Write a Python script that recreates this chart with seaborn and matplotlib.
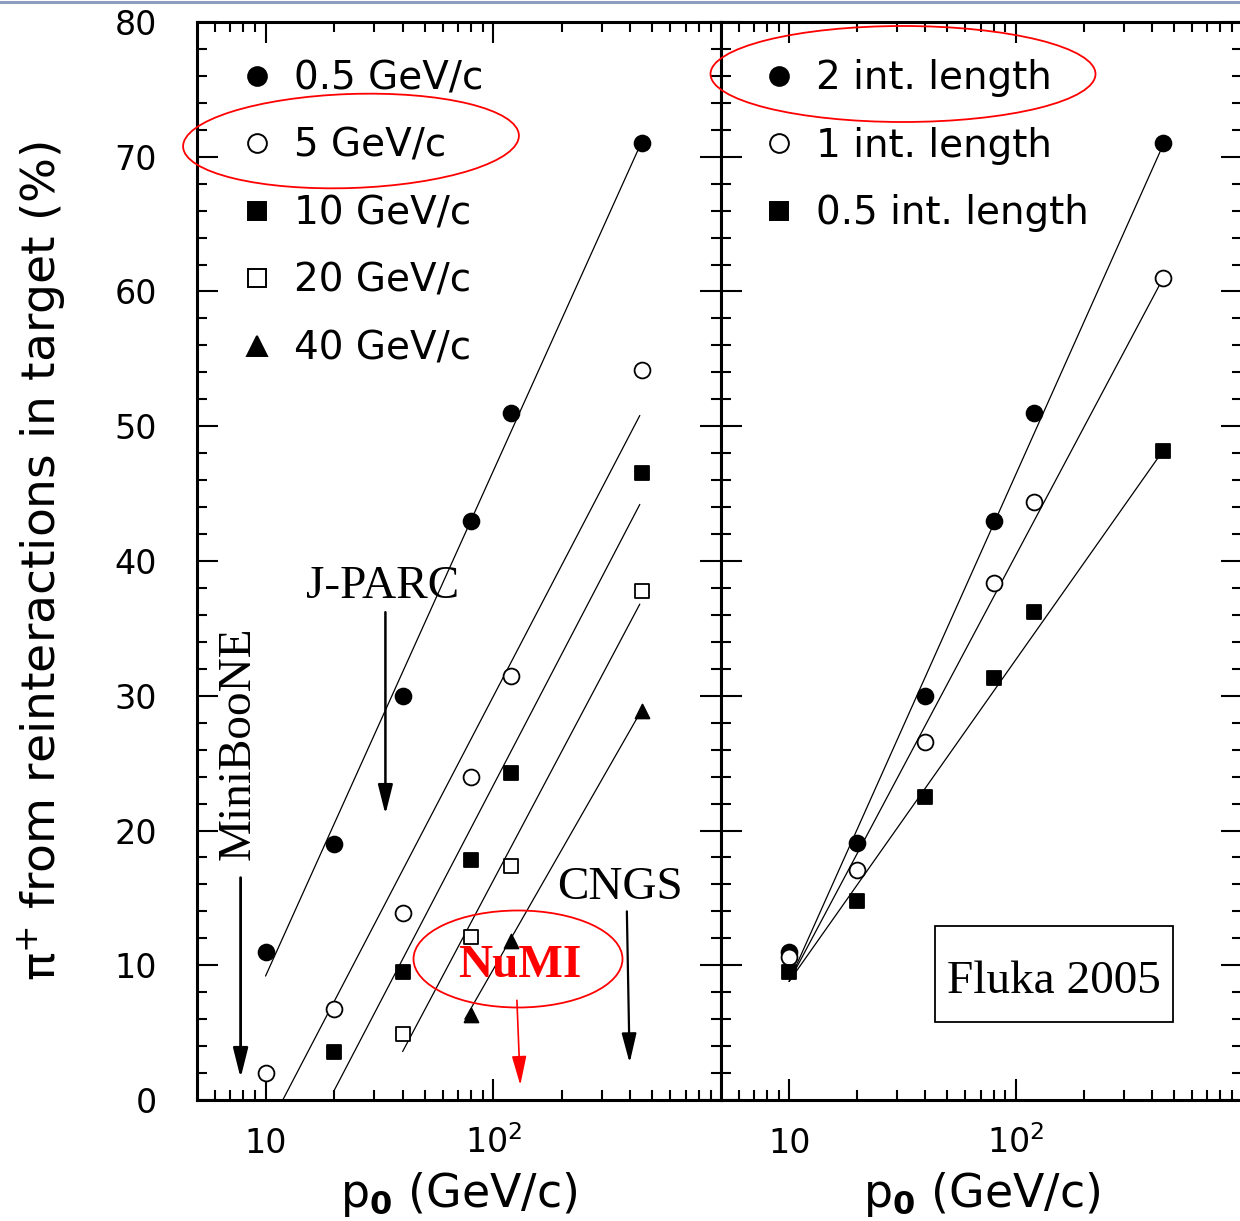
import numpy as np
import pandas as pd
import matplotlib
matplotlib.use("Agg")
import matplotlib.pyplot as plt
import seaborn as sns
from matplotlib.lines import Line2D
from matplotlib.patches import Ellipse, Rectangle
from matplotlib.ticker import FixedLocator, NullFormatter, MultipleLocator

# ---------------- data ----------------
# left panel: pi+ fraction from reinteractions vs beam momentum, per pion momentum
p_beam = [10, 20, 40, 80, 120, 450]
pi_p05 = [11.0, 19.0, 30.0, 43.0, 51.0, 71.0]      # 0.5 GeV/c
pi_p5 = [2.0, 6.75, 13.9, 24.0, 31.5, 54.2]         # 5 GeV/c
p_beam_10 = [20, 40, 80, 120, 450]
pi_p10 = [3.55, 9.5, 17.8, 24.3, 46.5]              # 10 GeV/c
p_beam_20 = [40, 80, 120, 450]
pi_p20 = [4.9, 12.1, 17.4, 37.8]                    # 20 GeV/c
p_beam_40 = [80, 120, 450]
pi_p40 = [6.3, 11.8, 28.9]                          # 40 GeV/c

# straight-line fits (in log p) drawn in the left panel: end points
fit_p05_x, fit_p05_y = [10, 432], [9.2, 70.5]
fit_p5_x, fit_p5_y = [11.9, 440], [0.0, 50.8]
fit_p10_x, fit_p10_y = [20, 440], [0.7, 44.2]
fit_p20_x, fit_p20_y = [40, 440], [3.6, 36.8]
fit_p40_x, fit_p40_y = [75, 440], [6.0, 28.7]

# right panel: target length dependence
pi_2int = [11.0, 19.1, 30.0, 43.0, 51.0, 71.0]
pi_1int = [10.6, 17.1, 26.6, 38.4, 44.4, 61.0]
pi_05int = [9.5, 14.8, 22.5, 31.3, 36.2, 48.2]
fit_2int_x, fit_2int_y = [10, 438], [8.8, 70.5]
fit_1int_x, fit_1int_y = [10, 436], [8.8, 60.6]
fit_05int_x, fit_05int_y = [10, 440], [8.8, 48.0]

left_labels = ["0.5 GeV/c", "5 GeV/c", "10 GeV/c", "20 GeV/c", "40 GeV/c"]
right_labels = ["2 int. length", "1 int. length", "0.5 int. length"]
xtick_vals = [10, 100]
xtick_text = ["10", "$10^2$"]

# ---------------- style ----------------
sns.set_theme(style="ticks")
plt.rcParams["font.family"] = ["DejaVu Sans"]
plt.rcParams["mathtext.default"] = "regular"
plt.rcParams["axes.linewidth"] = 2.2
for key in ["text.color", "axes.labelcolor", "xtick.color", "ytick.color",
            "xtick.labelcolor", "ytick.labelcolor", "axes.edgecolor"]:
    plt.rcParams[key] = "black"

W, H = 1240, 1221
fig = plt.figure(figsize=(W / 100, H / 100), dpi=100)
fig.patch.set_facecolor("white")

axL = fig.add_axes([197 / W, 1 - 1100 / H, 524 / W, 1078 / H])
axR = fig.add_axes([721 / W, 1 - 1100 / H, 521 / W, 1078 / H])

MS_C = 130   # scatter size (pt^2) circle
MS_S = 105   # square
MS_T = 100   # triangle
EW = 1.3

def series(ax, px, py, fx, fy, marker, fc, s):
    sns.lineplot(x=fx, y=fy, ax=ax, color="black", linewidth=0.9, zorder=2)
    sns.scatterplot(x=px, y=py, ax=ax, marker=marker, s=s, color=fc,
                    edgecolor="black", linewidth=EW, zorder=3)

for ax in (axL, axR):
    ax.set_xscale("log")

series(axL, p_beam, pi_p05, fit_p05_x, fit_p05_y, "o", "black", MS_C)
series(axL, p_beam, pi_p5, fit_p5_x, fit_p5_y, "o", "white", MS_C)
series(axL, p_beam_10, pi_p10, fit_p10_x, fit_p10_y, "s", "black", MS_S)
series(axL, p_beam_20, pi_p20, fit_p20_x, fit_p20_y, "s", "white", MS_S)
series(axL, p_beam_40, pi_p40, fit_p40_x, fit_p40_y, "^", "black", MS_T)

series(axR, p_beam, pi_2int, fit_2int_x, fit_2int_y, "o", "black", MS_C)
series(axR, p_beam, pi_1int, fit_1int_x, fit_1int_y, "o", "white", MS_C)
series(axR, p_beam, pi_05int, fit_05int_x, fit_05int_y, "s", "black", MS_S)

minor_x = [6, 7, 8, 9, 20, 30, 40, 50, 60, 70, 80, 90,
           200, 300, 400, 500, 600, 700, 800, 900]
for ax in (axL, axR):
    ax.set_xlim(5, 1000)
    ax.set_ylim(0, 80)
    ax.set_xticks(xtick_vals, labels=xtick_text)
    ax.xaxis.set_minor_locator(FixedLocator(minor_x))
    ax.xaxis.set_minor_formatter(NullFormatter())
    ax.yaxis.set_major_locator(MultipleLocator(10))
    ax.yaxis.set_minor_locator(MultipleLocator(2))
    ax.tick_params(which="both", direction="in", top=True, right=True,
                   width=1.5, color="black", labelcolor="black")
    ax.tick_params(which="major", length=15)
    ax.tick_params(which="minor", length=7)
    ax.tick_params(axis="x", which="major", pad=38, labelsize=24)
    ax.tick_params(axis="y", which="major", pad=29, labelsize=24)
    for lbl in ax.get_xticklabels():
        lbl.set_verticalalignment("baseline")
    for sp in ax.spines.values():
        sp.set_linewidth(2.2)
        sp.set_color("black")
    ax.set_facecolor("white")
    ax.set_xlabel(r"p$_{\mathbf{0}}$ (GeV/c)", fontsize=33, va="baseline",
                  color="black")
    ax.xaxis.set_label_coords(0.5, -0.0993)

axR.tick_params(axis="y", labelleft=False)
axL.set_ylabel("π$^{+}$ from reinteractions in target (%)", fontsize=34,
               va="center", color="black")
axL.yaxis.set_label_coords(-0.2958, 0.5)

# ---------------- legends ----------------
def mk(marker, fc, ms):
    return Line2D([], [], linestyle="none", marker=marker, markersize=ms,
                  markerfacecolor=fc, markeredgecolor="black", markeredgewidth=1.4)

hL = [mk("o", "black", 13.5), mk("o", "white", 13.5), mk("s", "black", 13.5),
      mk("s", "white", 13.5), mk("^", "black", 14)]
hR = [mk("o", "black", 13.5), mk("o", "white", 13.5), mk("s", "black", 13.5)]
leg_kw = dict(loc="upper left", frameon=False, fontsize=28, handlelength=1.0,
              handletextpad=0.45, labelspacing=0.76, borderpad=0, borderaxespad=0,
              labelcolor="black")
axL.legend(hL, left_labels, bbox_to_anchor=(0.0773, 0.9654), **leg_kw)
axR.legend(hR, right_labels, bbox_to_anchor=(0.074, 0.9654), **leg_kw)

# ---------------- annotations ----------------
serif = ["Liberation Serif", "DejaVu Serif"]
def arrow(ax, x, y0, x1, y1, color, lw):
    ax.annotate("", xy=(x1, y1), xytext=(x, y0),
                arrowprops=dict(arrowstyle="-|>,head_length=1.8,head_width=0.45",
                                color=color, lw=lw, mutation_scale=10,
                                shrinkA=0, shrinkB=0), zorder=4)

arrow(axL, 7.77, 16.5, 7.77, 1.63, "black", 2.0)
arrow(axL, 33.6, 36.2, 33.6, 21.2, "black", 1.8)
arrow(axL, 386, 14.0, 397, 2.75, "black", 1.6)
arrow(axL, 127, 7.4, 131.4, 1.1, "red", 1.2)

axL.text(7.61, 26.5, "MiniBooNE", rotation=90, ha="center", va="center",
         fontsize=34, family=serif, color="black")
axL.text(32.8, 37.25, "J-PARC", ha="center", va="baseline", fontsize=34,
         family=serif, color="black")
axL.text(360, 14.9, "CNGS", ha="center", va="baseline", fontsize=34,
         family=serif, color="black")
axL.text(130.5, 9.13, "NuMI", ha="center", va="baseline", fontsize=34,
         family=serif, color="red", fontweight="bold", zorder=5)

axR.add_patch(Rectangle((0.4115, 0.0726), 0.4563, 0.0888, transform=axR.transAxes,
                        fill=False, edgecolor="black", linewidth=1.3, zorder=4))
axR.text(0.6385, 0.0993, "Fluka 2005", transform=axR.transAxes, ha="center",
         va="baseline", fontsize=34, family=serif, color="black")

# red ellipses (figure coordinates)
for cx, cy, w, h, ang in [(351, 141, 336, 94, 2), (903, 74, 385, 96, 0),
                          (518, 959, 209, 97, 0)]:
    fig.add_artist(Ellipse((cx / W, 1 - cy / H), w / W, h / H, angle=ang,
                           transform=fig.transFigure, fill=False,
                           edgecolor="red", linewidth=1.3, zorder=10))

# thin bar at the very top of the screenshot
fig.add_artist(Line2D([0, 1], [1 - 1.5 / H, 1 - 1.5 / H], transform=fig.transFigure,
                      color="#8c9dbf", linewidth=2.2))

fig.savefig("out.png", dpi=100)
